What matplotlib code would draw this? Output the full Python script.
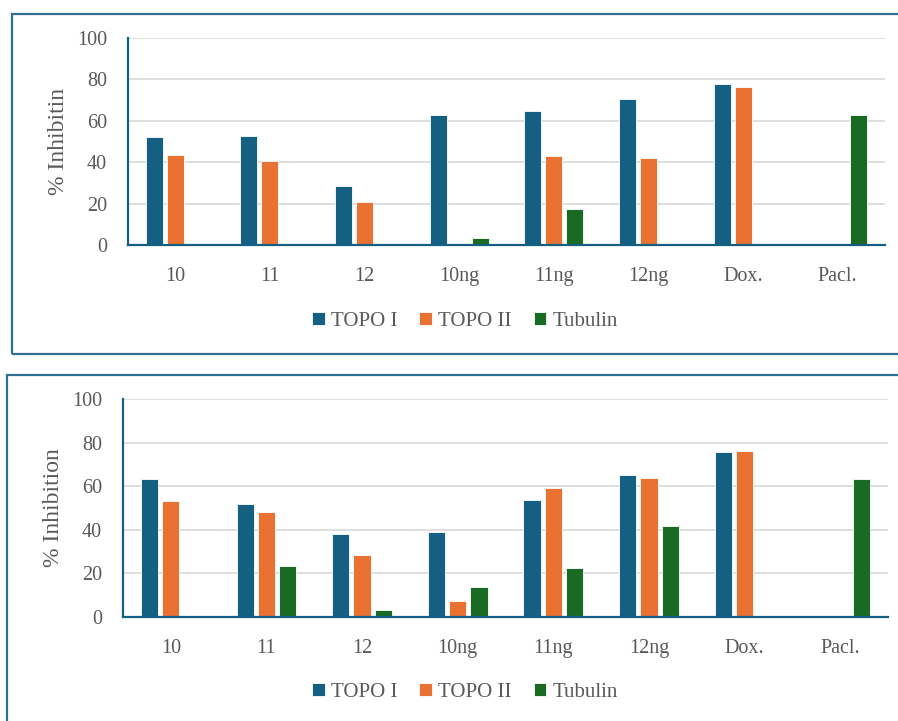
import numpy as np
import matplotlib
matplotlib.use("Agg")
import matplotlib.pyplot as plt
from matplotlib.patches import Rectangle

plt.rcParams['font.family'] = ['Liberation Serif', 'DejaVu Serif']

categories = ['10', '11', '12', '10ng', '11ng', '12ng', 'Dox.', 'Pacl.']
series_names = ['TOPO I', 'TOPO II', 'Tubulin']
colors = ['#156082', '#E97132', '#196B24']

# верхний график
top_topo1 = [52.3, 52.7, 28.6, 62.9, 64.8, 70.3, 77.7, 0]
top_topo2 = [43.7, 40.7, 20.7, 0, 43.1, 41.8, 76.1, 0]
top_tubulin = [0, 0, 0, 3.2, 17.2, 0, 0, 62.9]

# нижний график
bot_topo1 = [63.3, 51.8, 38.0, 39.1, 53.8, 65.0, 75.9, 0]
bot_topo2 = [53.1, 48.2, 28.2, 7.1, 59.2, 63.7, 76.4, 0]
bot_tubulin = [0, 23.5, 2.9, 13.8, 22.5, 41.6, 0, 63.2]

yticks = [0, 20, 40, 60, 80, 100]

text_color = '#595959'
frame_color = '#2F6F94'


def draw_panel(ax, values, ylabel):
    x = np.arange(len(categories))
    offsets = [-0.222, 0, 0.222]
    for vals, off, c, name in zip(values, offsets, colors, series_names):
        ax.bar(x + off, vals, width=0.18, color=c, edgecolor='white',
               linewidth=0.6, label=name, zorder=2)
    ax.set_xlim(-0.5, len(categories) - 0.5)
    ax.set_ylim(0, 100)
    ax.set_yticks(yticks)
    ax.set_xticks(x)
    ax.set_xticklabels(categories)
    ax.tick_params(axis='both', length=0, labelsize=14.5, colors=text_color)
    ax.tick_params(axis='y', pad=15)
    ax.tick_params(axis='x', pad=16)
    ax.grid(axis='y', color='#D9D9D9', linewidth=1.2, zorder=0)
    ax.set_axisbelow(True)
    for s in ['top', 'right']:
        ax.spines[s].set_visible(False)
    for s in ['left', 'bottom']:
        ax.spines[s].set_color('#156082')
        ax.spines[s].set_linewidth(1.6)
    ax.set_ylabel(ylabel, fontsize=17, color=text_color, labelpad=6)


fig = plt.figure(figsize=(8.98, 7.21), dpi=100)

# рамки вокруг панелей
fig.add_artist(Rectangle((12 / 898, 1 - 354 / 721), 1.0, 340 / 721,
                         transform=fig.transFigure, fill=False,
                         edgecolor=frame_color, linewidth=1.6))
fig.add_artist(Rectangle((7 / 898, -0.05), 1.0, 1 - 375 / 721 + 0.05,
                         transform=fig.transFigure, fill=False,
                         edgecolor=frame_color, linewidth=1.6))

ax1 = fig.add_axes([128 / 898, 1 - 245 / 721, 757 / 898, 207 / 721])
draw_panel(ax1, [top_topo1, top_topo2, top_tubulin], '% Inhibitin')

ax2 = fig.add_axes([123 / 898, 1 - 616.7 / 721, 765 / 898, 217.4 / 721])
draw_panel(ax2, [bot_topo1, bot_topo2, bot_tubulin], '% Inhibition')

for ax, ly in [(ax1, 1 - 321 / 721), (ax2, 1 - 692.7 / 721)]:
    h, l = ax.get_legend_handles_labels()
    leg = fig.legend(h, l, loc='center', bbox_to_anchor=(465 / 898, ly),
                     ncol=3, frameon=False,
                     prop={'family': ['Liberation Serif', 'DejaVu Serif'], 'size': 15},
                     handlelength=0.6, handleheight=0.6, handletextpad=0.3,
                     columnspacing=1.05)
    for t in leg.get_texts():
        t.set_color(text_color)

fig.savefig('out.png', dpi=100)
